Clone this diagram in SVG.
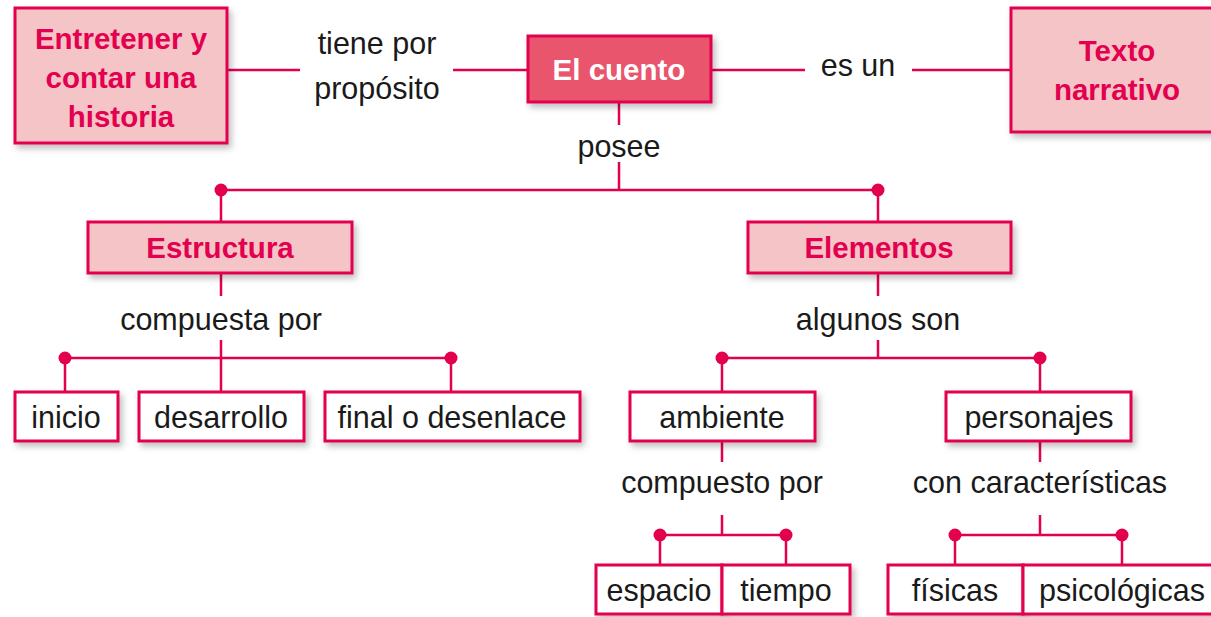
<svg xmlns="http://www.w3.org/2000/svg" width="1211" height="617" viewBox="0 0 1211 617">
<defs>
<filter id="sh" x="-10%" y="-10%" width="130%" height="140%">
<feDropShadow dx="3" dy="4" stdDeviation="3" flood-color="#000" flood-opacity="0.25"/>
</filter>
<style>
.pink{fill:#f5c4c7;stroke:#e2004f;stroke-width:3;filter:url(#sh)}
.main{fill:#e8546c;stroke:#e2004f;stroke-width:3;filter:url(#sh)}
.white{fill:#fff;stroke:#e2004f;stroke-width:3;filter:url(#sh)}
.bt{font-family:"Liberation Sans",Arial,sans-serif;font-weight:bold;font-size:29.5px;fill:#e2004f;text-anchor:middle}
.wt{font-family:"Liberation Sans",Arial,sans-serif;font-weight:bold;font-size:29.5px;fill:#fff;text-anchor:middle}
.rt{font-family:"Liberation Sans",Arial,sans-serif;font-size:30.5px;fill:#1a1a1a;text-anchor:middle}
.ln{stroke:#e2004f;stroke-width:2.5;fill:none}
.dot{fill:#e2004f}
</style>
</defs>
<rect width="1211" height="617" fill="#fff"/>
<g id="connectors">
<path class="ln" d="M227 70H300M453 70H528M711 70H805M912 70H1011"/>
<path class="ln" d="M619 102V125M619 162V190M221 190H878M221 190V222M878 190V222"/>
<path class="ln" d="M221 273V296M221 340V392M65 358H451M65 358V392M451 358V392"/>
<path class="ln" d="M878 273V296M878 340V358M722 358H1040M722 358V392M1040 358V392"/>
<path class="ln" d="M722 441V462M722 515V535M660 535H786M660 535V565M786 535V565"/>
<path class="ln" d="M1040 441V462M1040 515V535M955 535H1122M955 535V565M1122 535V565"/>
<circle class="dot" cx="221" cy="190" r="6.5"/><circle class="dot" cx="878" cy="190" r="6.5"/>
<circle class="dot" cx="65" cy="358" r="6.5"/><circle class="dot" cx="451" cy="358" r="6.5"/>
<circle class="dot" cx="722" cy="358" r="6.5"/><circle class="dot" cx="1040" cy="358" r="6.5"/>
<circle class="dot" cx="660" cy="535" r="6.5"/><circle class="dot" cx="786" cy="535" r="6.5"/>
<circle class="dot" cx="955" cy="535" r="6.5"/><circle class="dot" cx="1122" cy="535" r="6.5"/>
<text class="rt" x="377" y="54">tiene por</text>
<text class="rt" x="377" y="99">propósito</text>
<text class="rt" x="858" y="76">es un</text>
<text class="rt" x="619" y="157">posee</text>
<text class="rt" x="221" y="330">compuesta por</text>
<text class="rt" x="878" y="330">algunos son</text>
<text class="rt" x="722" y="493">compuesto por</text>
<text class="rt" x="1040" y="493">con características</text>
</g>
<g id="n-entretener"><rect class="pink" x="15" y="8" width="212" height="135"/>
<text class="bt" x="121" y="49">Entretener y</text><text class="bt" x="121" y="88">contar una</text><text class="bt" x="121" y="127">historia</text></g>
<g id="n-cuento"><rect class="main" x="528" y="36" width="183" height="66"/><text class="wt" x="619" y="80">El cuento</text></g>
<g id="n-texto"><rect class="pink" x="1011" y="8" width="210" height="124"/>
<text class="bt" x="1117" y="61">Texto</text><text class="bt" x="1117" y="100">narrativo</text></g>
<g id="n-estructura"><rect class="pink" x="88" y="222" width="264" height="51"/><text class="bt" x="220" y="258">Estructura</text></g>
<g id="n-elementos"><rect class="pink" x="748" y="222" width="263" height="51"/><text class="bt" x="879" y="258">Elementos</text></g>
<g id="n-inicio"><rect class="white" x="15" y="392" width="103" height="49"/><text class="rt" x="66" y="428">inicio</text></g>
<g id="n-desarrollo"><rect class="white" x="139" y="392" width="165" height="49"/><text class="rt" x="221" y="428">desarrollo</text></g>
<g id="n-final"><rect class="white" x="325" y="392" width="255" height="49"/><text class="rt" x="452" y="428">final o desenlace</text></g>
<g id="n-ambiente"><rect class="white" x="630" y="392" width="185" height="49"/><text class="rt" x="722" y="428">ambiente</text></g>
<g id="n-personajes"><rect class="white" x="946" y="392" width="185" height="49"/><text class="rt" x="1039" y="428">personajes</text></g>
<g id="n-espacio"><rect class="white" x="596" y="565" width="126" height="49"/><text class="rt" x="659" y="601">espacio</text></g>
<g id="n-tiempo"><rect class="white" x="722" y="565" width="128" height="49"/><text class="rt" x="786" y="601">tiempo</text></g>
<g id="n-fisicas"><rect class="white" x="888" y="565" width="135" height="49"/><text class="rt" x="955" y="601">físicas</text></g>
<g id="n-psicologicas"><rect class="white" x="1023" y="565" width="198" height="49"/><text class="rt" x="1122" y="601">psicológicas</text></g>
</svg>
